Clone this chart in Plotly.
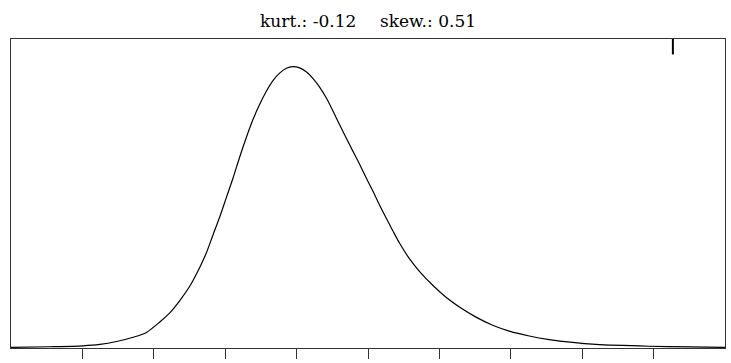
import plotly.graph_objects as go

# density curve (x in axis units 0..10, height as fraction of axis)
x_vals = [0.0, 0.545, 1.007, 1.245, 1.478, 1.711, 1.897, 2.084, 2.224, 2.364, 2.503, 2.643,
          2.737, 2.829, 2.923, 3.016, 3.110, 3.203, 3.296, 3.389, 3.483, 3.576, 3.669,
          3.762, 3.856, 3.949, 4.042, 4.135, 4.228, 4.322, 4.415, 4.508, 4.601, 4.695,
          4.788, 4.881, 4.974, 5.068, 5.161, 5.254, 5.347, 5.441, 5.580, 5.720, 5.907,
          6.093, 6.280, 6.513, 6.746, 6.979, 7.259, 7.538, 7.865, 8.191, 8.937, 9.5, 10.0]
density = [0.0022, 0.0041, 0.0070, 0.0116, 0.0210, 0.0347, 0.0505, 0.0841, 0.1136, 0.1535,
           0.1998, 0.2608, 0.3081, 0.3659, 0.4238, 0.4868, 0.5500, 0.6183, 0.6814, 0.7392,
           0.7886, 0.8307, 0.8654, 0.8896, 0.9054, 0.9106, 0.9064, 0.8938, 0.8728, 0.8444,
           0.8097, 0.7676, 0.7234, 0.6793, 0.6372, 0.5952, 0.5510, 0.5079, 0.4627, 0.4206,
           0.3796, 0.3396, 0.2892, 0.2482, 0.2029, 0.1640, 0.1325, 0.0999, 0.0736, 0.0547,
           0.0389, 0.0273, 0.0179, 0.0116, 0.0057, 0.0035, 0.0019]
tick_positions = [1, 2, 3, 4, 5, 6, 7, 8, 9]
marker_x = [9.27]
title_parts = ["kurt.: -0.12", "skew.: 0.51"]

fig = go.Figure()
fig.add_trace(go.Scatter(x=x_vals, y=density, mode="lines",
                         line=dict(color="black", width=1.2, shape="spline", smoothing=0.8),
                         hoverinfo="skip", showlegend=False))
fig.add_trace(go.Scatter(x=[marker_x[0], marker_x[0]], y=[1.0, 0.95], mode="lines",
                         line=dict(color="black", width=2), showlegend=False, hoverinfo="skip"))

title_font = dict(family="DejaVu Serif", size=17, color="black")
ann = [
    dict(text=title_parts[0], xref="paper", yref="paper", x=(358 - 11) / 715, y=1,
         yanchor="bottom", xanchor="right", yshift=6, showarrow=False, font=title_font),
    dict(text=title_parts[1], xref="paper", yref="paper", x=(379 - 11) / 715, y=1,
         yanchor="bottom", xanchor="left", yshift=6, showarrow=False, font=title_font),
]

fig.update_layout(
    width=731, height=363,
    margin=dict(l=11, r=5, t=39, b=7),
    paper_bgcolor="white", plot_bgcolor="white",
    showlegend=False,
    xaxis=dict(range=[0, 10], tickvals=tick_positions, showticklabels=False,
               ticks="outside", ticklen=10, tickcolor="#333", tickwidth=1,
               showgrid=False, zeroline=False, showline=True, linecolor="#333",
               linewidth=1, mirror=True),
    yaxis=dict(range=[0, 1], showticklabels=False, ticks="", showgrid=False,
               zeroline=False, showline=True, linecolor="#333", linewidth=1, mirror=True),
    annotations=ann,
)

fig.write_html("out.html", config={"displayModeBar": False},
               post_script="document.body.style.margin='0';document.body.style.overflow='hidden';")
